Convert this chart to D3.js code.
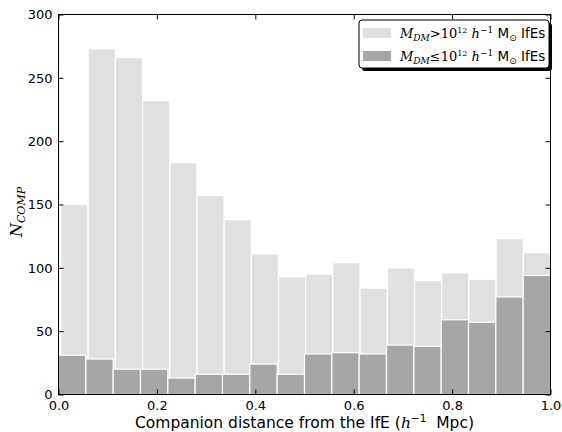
<!DOCTYPE html>
<html><head><meta charset="utf-8">
<script src="https://cdn.jsdelivr.net/npm/d3@7"></script>
<style>body{margin:0;background:#fff}svg{display:block}</style>
</head><body><svg id="c" width="562" height="432"></svg>
<script>
const highMass = [150,273,266,232,183,157,138,111,93,95,104,84,100,90,96,91,123,112];
const lowMass  = [31,28,20,20,13,16,16,24,16,32,33,32,39,38,59,57,77,94];
const highRange = [0.005, 1.0];
const lowRange = [0.0, 1.0];
const xTicks = [0, 0.2, 0.4, 0.6, 0.8, 1.0];
const yTicks = [0, 50, 100, 150, 200, 250, 300];

const svg = d3.select("#c");
const L = 58.5, R = 550.5, T = 14.5, B = 394.5;
const x = d3.scaleLinear().domain([0,1]).range([L,R]);
const y = d3.scaleLinear().domain([0,300]).range([B,T]);
const SANS = "DejaVu Sans, sans-serif", SERIF = "DejaVu Serif, serif";

function bins(vals, rng){
  const w = (rng[1]-rng[0])/vals.length;
  return vals.map((v,i)=>({x0:rng[0]+i*w, x1:rng[0]+(i+1)*w, v}));
}
function drawBars(data, color){
  svg.append("g").selectAll("rect").data(data).join("rect")
    .attr("x", d=>x(d.x0)).attr("width", d=>x(d.x1)-x(d.x0))
    .attr("y", d=>y(d.v)).attr("height", d=>y(0)-y(d.v))
    .attr("fill", color).attr("stroke","#fff").attr("stroke-width",1.2);
}
drawBars(bins(highMass, highRange), "#e0e0e0");
drawBars(bins(lowMass, lowRange), "#a6a6a6");

// frame
svg.append("rect").attr("x",L).attr("y",T).attr("width",R-L).attr("height",B-T)
  .attr("fill","none").attr("stroke","#000").attr("stroke-width",1);

// axes with inward ticks
const axB = d3.axisBottom(x).tickValues(xTicks).tickFormat(d3.format(".1f")).tickSizeInner(-5).tickSizeOuter(0).tickPadding(6);
const axT = d3.axisTop(x).tickValues(xTicks).tickFormat("").tickSizeInner(-5).tickSizeOuter(0);
const axL = d3.axisLeft(y).tickValues(yTicks).tickFormat(d3.format("d")).tickSizeInner(-5).tickSizeOuter(0).tickPadding(6);
const axR = d3.axisRight(y).tickValues(yTicks).tickFormat("").tickSizeInner(-5).tickSizeOuter(0);
function style(g){ g.select(".domain").remove(); g.selectAll("text").attr("font-family",SANS).attr("font-size",13).attr("fill","#000"); g.selectAll("line").attr("stroke","#000"); }
svg.append("g").attr("transform",`translate(0,${B})`).call(axB).call(style);
svg.append("g").attr("transform",`translate(0,${T})`).call(axT).call(style);
svg.append("g").attr("transform",`translate(${L},0)`).call(axL).call(style);
svg.append("g").attr("transform",`translate(${R},0)`).call(axR).call(style);

// x label
const xl = svg.append("text").attr("x",(L+R)/2).attr("y",428).attr("text-anchor","middle")
  .attr("font-family",SANS).attr("font-size",15.5).attr("fill","#000");
xl.append("tspan").text("Companion distance from the IfE (");
xl.append("tspan").attr("font-family",SERIF).attr("font-style","italic").text("h");
xl.append("tspan").attr("font-size",10.5).attr("dy",-6).text("−1");
xl.append("tspan").attr("dy",6).text("\u00a0 Mpc)");

// y label
const yl = svg.append("text").attr("transform","translate(22,212) rotate(-90)").attr("text-anchor","middle")
  .attr("font-family",SERIF).attr("font-style","italic").attr("font-size",16).attr("fill","#000");
yl.append("tspan").text("N");
yl.append("tspan").attr("font-size",11).attr("dy",3).text("COMP");

// legend
const lg = svg.append("g");
lg.append("rect").attr("x",362).attr("y",23).attr("width",190).attr("height",48).attr("rx",3).attr("fill","#000");
lg.append("rect").attr("x",359).attr("y",20).attr("width",190).attr("height",48).attr("rx",3).attr("fill","#fff").attr("stroke","#000").attr("stroke-width",1);
const entries = [{c:"#e0e0e0", op:">"},{c:"#a6a6a6", op:"≤"}];
entries.forEach((e,i)=>{
  const yy = 28 + i*23;
  lg.append("rect").attr("x",363).attr("y",yy).attr("width",28).attr("height",10).attr("fill",e.c);
  const t = lg.append("text").attr("x",400).attr("y",yy+10).attr("font-family",SERIF).attr("font-size",13).attr("fill","#000");
  t.append("tspan").attr("font-style","italic").text("M");
  t.append("tspan").attr("font-style","italic").attr("font-size",9).attr("dy",3).text("DM");
  t.append("tspan").attr("dy",-3).text(e.op+"10");
  t.append("tspan").attr("font-size",8).attr("dy",-5).text("12");
  t.append("tspan").attr("dy",5).attr("font-style","italic").text(" h");
  t.append("tspan").attr("font-size",9).attr("dy",-5).text("−1");
  t.append("tspan").attr("dy",5).attr("font-family",SANS).attr("font-size",13.5).text(" M");
  t.append("tspan").attr("font-size",9).attr("dy",3).attr("font-family",SANS).text("⊙");
  t.append("tspan").attr("dy",-3).attr("font-family",SANS).attr("font-size",13.5).text(" IfEs");
});
</script></body></html>
